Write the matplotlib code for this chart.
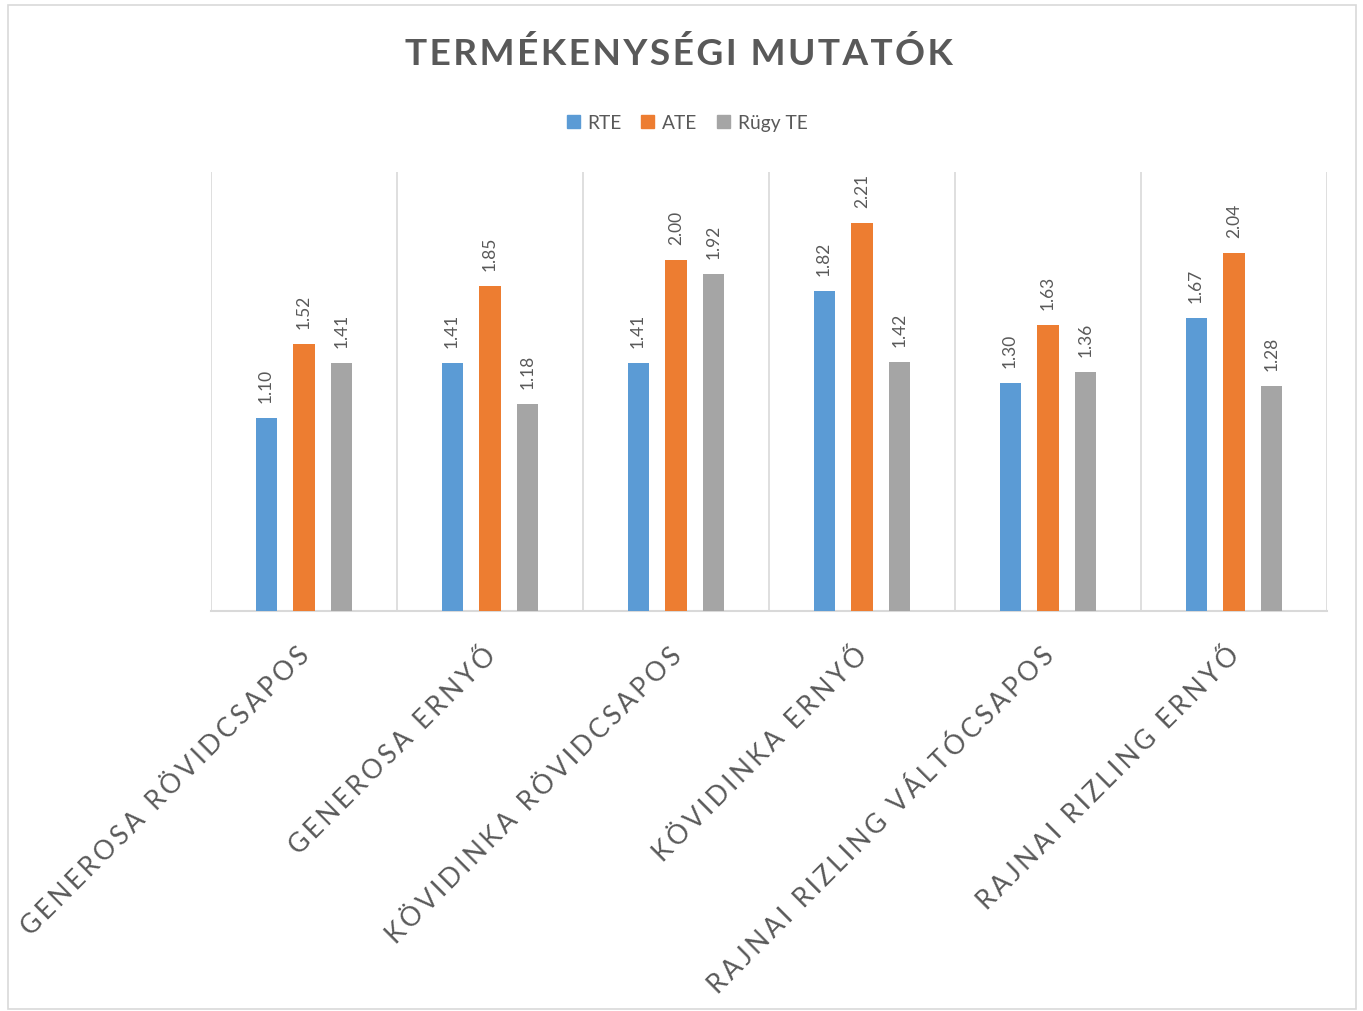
import matplotlib
matplotlib.use("Agg")
import matplotlib.pyplot as plt
from matplotlib.patches import Rectangle
import numpy as np

categories = ["GENEROSA RÖVIDCSAPOS", "GENEROSA ERNYŐ", "KÖVIDINKA RÖVIDCSAPOS",
              "KÖVIDINKA ERNYŐ", "RAJNAI RIZLING VÁLTÓCSAPOS", "RAJNAI RIZLING ERNYŐ"]
series_names = ["RTE", "ATE", "Rügy TE"]
rte = [1.10, 1.41, 1.41, 1.82, 1.30, 1.67]
ate = [1.52, 1.85, 2.00, 2.21, 1.63, 2.04]
rugy = [1.41, 1.18, 1.92, 1.42, 1.36, 1.28]
colors = ["#5B9BD5", "#ED7D31", "#A5A5A5"]
title = "TERMÉKENYSÉGI MUTATÓK"

FAM = ["Lato", "DejaVu Sans"]


def spaced(s, sep="\u2009"):
    return sep.join(s)


W, H = 1363, 1012
fig = plt.figure(figsize=(W / 100, H / 100), dpi=100)
fig.patches.append(Rectangle((8 / W, 2 / H), (1356 - 8) / W, (1004) / H,
                             transform=fig.transFigure, fill=False,
                             edgecolor="#D9D9D9", linewidth=1.2))

ax = fig.add_axes([211 / W, 1 - 612 / H, (1327 - 211) / W, (612 - 173) / H])
x = np.arange(len(categories))
bw = 0.113
offs = [-0.204, 0.0, 0.204]
text_col = "#595959"
for vals, off, c, name in zip([rte, ate, rugy], offs, colors, series_names):
    bars = ax.bar(x + off, vals, width=bw, color=c, label=name, zorder=3)
    for b, v in zip(bars, vals):
        ax.annotate(f"{v:.2f}", (b.get_x() + b.get_width() / 2, v),
                    xytext=(0, 11.5), textcoords="offset points",
                    rotation=90, ha="center", va="bottom",
                    fontsize=12.5, color=text_col, family=FAM)

ax.set_xlim(-0.5, len(categories) - 0.5)
ax.set_ylim(0, 2.5)
ax.set_yticks([])
ax.set_xticks([])
for b in np.arange(-0.5, len(categories), 1.0):
    ax.axvline(b, color="#D9D9D9", linewidth=1.2, zorder=1)
for s in ["top", "right", "left"]:
    ax.spines[s].set_visible(False)
ax.spines["bottom"].set_color("#D9D9D9")
ax.spines["bottom"].set_linewidth(1.5)

for i, cat in enumerate(categories):
    ax.annotate(spaced(cat), (i, 0), xytext=(2, -40), textcoords="offset pixels",
                rotation=45, rotation_mode="anchor", ha="right", va="center",
                fontsize=19.1, color=text_col, family=FAM)

fig.text(679 / W, 1 - 54 / H, spaced(title, "\u200a"), ha="center", va="center",
         fontsize=26.7, fontweight="bold", color=text_col, family=FAM)

handles = [Rectangle((0, 0), 1, 1, color=c) for c in colors]
fig.legend(handles, series_names, loc="center", bbox_to_anchor=(687 / W, 1 - 123.5 / H),
           ncol=3, frameon=False, handlelength=0.7, handleheight=0.7,
           handletextpad=0.4, columnspacing=1.0, labelcolor=text_col,
           prop={"family": FAM, "size": 13.8})

fig.savefig("out.png", dpi=100)
